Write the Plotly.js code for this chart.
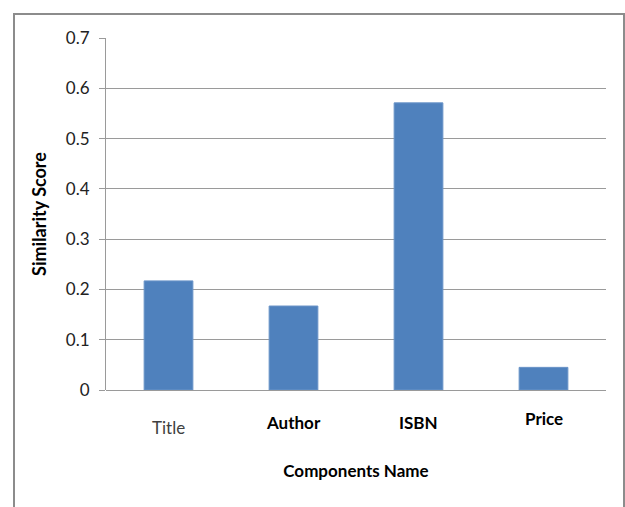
<!DOCTYPE html>
<html>
<head>
<meta charset="utf-8">
<script src="https://cdn.plot.ly/plotly-3.0.1.min.js"></script>
<style>
html,body{margin:0;padding:0;background:#fff;}
#wrap{position:relative;width:625px;height:507px;overflow:hidden;}
#chart{position:absolute;left:0;top:0;width:625px;height:507px;}
#frame{position:absolute;left:13px;top:13px;width:612px;height:520px;border:2px solid #8c8c8c;box-sizing:border-box;pointer-events:none;}
</style>
</head>
<body>
<div id="wrap"><div id="chart"></div><div id="frame"></div></div>
<script>
// Data
var categories = ["Title", "Author", "ISBN", "Price"];
var scores = [0.217, 0.167, 0.571, 0.045];
var yTickVals = [0, 0.1, 0.2, 0.3, 0.4, 0.5, 0.6, 0.7];
var yTickText = ["0", "0.1", "0.2", "0.3", "0.4", "0.5", "0.6", "0.7"];

// Label styling (as in the reference image)
var labelBold = [false, true, true, true];
var labelShift = [-37, -32, -32, -28];
var labelColor = ["#404040", "#000000", "#000000", "#000000"];

var FONT = "Lato, 'Open Sans', sans-serif";

var trace = {
  type: "bar",
  x: categories,
  y: scores,
  marker: {color: "#4F81BD", line: {color: "#6a94c8", width: 1}},
  hoverinfo: "x+y"
};

var annotations = categories.map(function(c, i){
  return {
    x: c, y: 0, xref: "x", yref: "y",
    text: labelBold[i] ? "<b>" + c + "</b>" : c,
    showarrow: false,
    yshift: labelShift[i],
    font: {family: FONT, size: 17, color: labelColor[i]}
  };
});

var layout = {
  width: 625, height: 507,
  margin: {l: 106, r: 19, t: 38, b: 117},
  paper_bgcolor: "#ffffff",
  plot_bgcolor: "#ffffff",
  showlegend: false,
  bargap: 0.61,
  xaxis: {
    type: "category",
    showticklabels: false,
    ticks: "",
    showgrid: false,
    showline: false,
    zeroline: false,
    title: {text: "<b>Components Name</b>", font: {family: FONT, size: 17, color: "#000"}, standoff: 75},
    automargin: false
  },
  yaxis: {
    range: [0, 0.7],
    tickvals: yTickVals,
    ticktext: yTickText,
    ticks: "outside",
    ticklen: 6,
    tickcolor: "#9a9a9a",
    tickfont: {family: FONT, size: 17, color: "#222"},
    showgrid: true,
    gridcolor: "#9a9a9a",
    gridwidth: 1,
    showline: true,
    linecolor: "#9a9a9a",
    linewidth: 1,
    zeroline: true,
    zerolinecolor: "#9a9a9a",
    zerolinewidth: 1,
    ticklabelstandoff: 6,
    title: {text: "<b>Similarity Score</b>", font: {family: FONT, size: 18, color: "#000"}, standoff: 14},
    automargin: false
  },
  annotations: annotations
};

Plotly.newPlot("chart", [trace], layout, {displayModeBar: false, staticPlot: true});
</script>
</body>
</html>
